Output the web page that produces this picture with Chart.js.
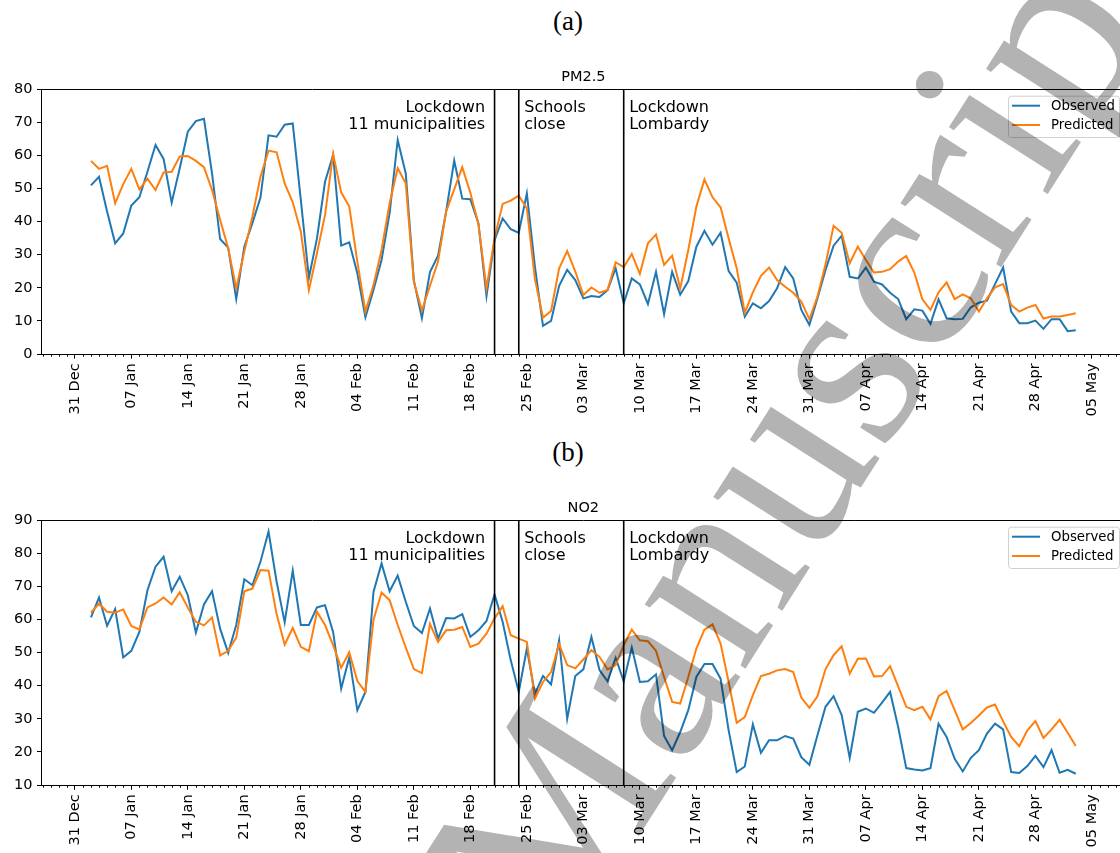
<!DOCTYPE html>
<html>
<head>
<meta charset="utf-8">
<script src="https://cdn.jsdelivr.net/npm/chart.js@4.4.1/dist/chart.umd.min.js"></script>
<style>
  html, body { margin: 0; padding: 0; background: #fff; }
  body { width: 1120px; height: 853px; overflow: hidden; position: relative; }
  canvas { position: absolute; left: 0; }
  #chart-a { top: 0; }
  #chart-b { top: 431px; }
  .panel-label {
    position: absolute; left: 528px; width: 80px; text-align: center;
    font-family: 'Liberation Serif', serif; font-size: 27px; line-height: 27px; color: #000;
  }
  #watermark { position: absolute; left: 0; top: 0; mix-blend-mode: multiply; pointer-events: none; }
</style>
</head>
<body>
<div class="panel-label" style="top: 8px;">(a)</div>
<div class="panel-label" style="top: 439px;">(b)</div>
<canvas id="chart-a" width="1125" height="453"></canvas>
<canvas id="chart-b" width="1125" height="453"></canvas>
<svg id="watermark" width="1120" height="853">
  <text x="556" y="966" transform="rotate(-57.5 556 966)" font-family="Liberation Serif" font-size="260" fill="#b3b3b3">Manuscript</text>
</svg>
<script>
// days counted from 31 Dec 2019; first sample is 2 Jan
const firstDay = 2;
const tickDays = [0, 7, 14, 21, 28, 35, 42, 49, 56, 63, 70, 77, 84, 91, 98, 105, 112, 119, 126];
const tickLabels = ['31 Dec', '07 Jan', '14 Jan', '21 Jan', '28 Jan', '04 Feb', '11 Feb', '18 Feb', '25 Feb',
    '03 Mar', '10 Mar', '17 Mar', '24 Mar', '31 Mar', '07 Apr', '14 Apr', '21 Apr', '28 Apr', '05 May'];
const eventDays = [52, 55, 68];
const eventLabels = [['Lockdown', '11 municipalities'], ['Schools', 'close'], ['Lockdown', 'Lombardy']];
const seriesNames = ['Observed', 'Predicted'];

const pm25Observed = [
    50.9, 53.5, 43.0, 33.4, 36.4, 44.8, 47.3, 55.0, 63.1, 58.9,
    45.7, 56.1, 67.1, 70.3, 71.0, 54.5, 34.7, 32.1, 16.6, 32.4,
    39.5, 47.2, 66.0, 65.6, 69.2, 69.6, 46.5, 23.0, 34.9, 52.0,
    60.1, 32.7, 33.7, 24.4, 11.1, 19.3, 28.4, 42.5, 64.6, 54.5,
    22.3, 10.8, 24.7, 29.7, 43.0, 58.4, 46.9, 46.7, 39.5, 17.5,
    34.4, 40.9, 37.7, 36.6, 48.5, 26.4, 8.5, 10.0, 20.6, 25.4,
    22.3, 16.8, 17.5, 17.2, 19.3, 25.9, 15.3, 22.8, 21.0, 15.1,
    24.8, 12.0, 24.8, 17.9, 22.0, 32.4, 37.2, 33.0, 36.6, 25.0,
    21.5, 11.3, 15.3, 13.8, 16.0, 19.8, 26.2, 22.8, 13.3, 8.8,
    16.8, 25.4, 32.7, 35.7, 23.3, 22.8, 26.1, 21.8, 21.0, 18.5,
    16.6, 10.5, 13.5, 13.1, 9.1, 16.5, 10.8, 10.5, 10.6, 14.1,
    15.5, 16.1, 21.1, 26.1, 12.8, 9.3, 9.3, 10.1, 7.6, 10.5,
    10.5, 6.9, 7.2
];
const pm25Predicted = [
    58.3, 55.9, 56.8, 45.5, 51.3, 55.9, 49.7, 52.9, 49.5, 54.8,
    55.0, 59.6, 59.8, 58.3, 56.4, 49.5, 40.5, 31.9, 19.8, 30.9,
    41.5, 53.5, 61.4, 60.9, 51.5, 45.8, 36.9, 19.3, 30.4, 42.0,
    60.4, 48.8, 44.5, 27.9, 12.8, 20.8, 31.4, 45.5, 56.1, 51.5,
    21.8, 13.1, 20.6, 27.9, 43.0, 49.7, 56.4, 48.7, 39.3, 19.8,
    34.9, 45.3, 46.3, 47.8, 44.0, 22.6, 11.0, 13.0, 25.9, 31.1,
    24.9, 17.8, 20.1, 18.5, 19.3, 27.7, 26.2, 30.2, 24.2, 33.4,
    36.1, 26.9, 29.7, 19.8, 31.4, 44.5, 52.7, 47.3, 44.3, 34.9,
    25.9, 12.5, 18.6, 23.6, 26.1, 22.3, 20.3, 18.5, 15.8, 10.5,
    17.3, 27.1, 38.7, 36.6, 27.4, 32.4, 28.4, 24.6, 24.8, 25.6,
    27.9, 29.6, 24.6, 16.5, 13.3, 18.6, 21.6, 16.6, 18.0, 16.8,
    12.8, 16.8, 20.1, 21.1, 14.8, 12.8, 14.0, 14.8, 10.7, 11.3,
    11.3, 11.8, 12.3
];
const no2Observed = [
    60.6, 66.6, 58.1, 63.1, 48.5, 50.5, 56.2, 68.8, 75.9, 78.9,
    68.5, 72.9, 67.3, 56.0, 64.5, 68.5, 57.2, 49.9, 58.3, 72.1,
    70.3, 77.4, 86.5, 71.4, 59.1, 74.7, 58.3, 58.3, 63.6, 64.3,
    56.2, 39.1, 48.5, 32.6, 38.1, 68.3, 76.9, 68.5, 73.2, 65.3,
    58.0, 55.9, 63.3, 54.2, 60.4, 60.3, 61.6, 54.7, 56.7, 59.5,
    67.5, 59.3, 47.7, 38.1, 51.2, 37.6, 42.9, 40.4, 53.7, 30.0,
    42.9, 44.9, 54.7, 44.7, 41.3, 48.4, 41.3, 51.5, 41.1, 41.3,
    43.4, 24.8, 20.5, 26.0, 32.6, 42.6, 46.5, 46.5, 42.1, 26.5,
    13.9, 15.6, 28.3, 19.7, 23.5, 23.5, 24.8, 24.0, 18.4, 16.1,
    25.0, 33.6, 36.8, 31.1, 18.2, 32.1, 33.1, 31.8, 34.9, 38.1,
    27.5, 15.1, 14.7, 14.4, 15.1, 28.5, 24.5, 17.9, 14.1, 18.2,
    20.5, 25.5, 28.5, 26.8, 13.9, 13.6, 15.7, 18.8, 15.4, 20.5,
    13.7, 14.6, 13.4
];
const no2Predicted = [
    62.0, 64.8, 62.3, 62.0, 63.0, 58.0, 57.0, 63.6, 64.8, 66.6,
    64.5, 68.2, 63.6, 59.3, 58.2, 60.6, 49.1, 50.5, 54.5, 68.5,
    69.3, 74.9, 74.7, 61.6, 52.4, 57.4, 51.7, 50.4, 62.3, 58.3,
    52.2, 45.4, 50.1, 41.4, 38.1, 59.8, 68.1, 65.8, 58.3, 51.5,
    45.0, 43.8, 58.6, 53.2, 56.7, 56.9, 57.7, 51.7, 52.7, 55.7,
    60.3, 64.0, 55.2, 54.2, 53.2, 36.1, 41.1, 44.1, 52.5, 46.2,
    45.2, 47.9, 50.7, 48.7, 44.9, 46.2, 52.2, 56.9, 53.7, 53.4,
    50.5, 42.6, 35.1, 34.6, 42.6, 51.2, 56.9, 58.5, 52.7, 41.1,
    28.8, 30.5, 37.1, 42.9, 43.6, 44.6, 45.0, 44.1, 36.4, 33.3,
    36.8, 45.0, 49.2, 51.9, 43.6, 48.1, 48.2, 42.8, 42.9, 45.9,
    39.8, 33.6, 32.6, 33.6, 29.8, 36.8, 38.4, 32.6, 26.8, 28.7,
    31.0, 33.4, 34.3, 29.2, 24.5, 21.7, 26.5, 29.3, 24.2, 26.8,
    29.7, 25.8, 21.8
];

const BLUE = '#1f77b4';
const ORANGE = '#ff7f0e';
const FONT = "'DejaVu Sans', sans-serif";
const TICK_LEN = 4.67;
const TICK_FONT = 14.5;

Chart.defaults.font.family = FONT;
Chart.defaults.color = '#000';

function toPoints(values) {
    return values.map((v, i) => ({ x: firstDay + i, y: v }));
}

// top/right spines, minor day ticks, event lines, legend, panel title
const decorations = {
    id: 'decorations',
    afterDraw(chart, args, opts) {
        const { ctx, chartArea } = chart;
        const xs = chart.scales.x;
        ctx.save();

        ctx.strokeStyle = '#000';
        ctx.lineWidth = 1;
        ctx.beginPath();
        ctx.moveTo(chartArea.left, chartArea.top + 0.5);
        ctx.lineTo(chartArea.right, chartArea.top + 0.5);
        ctx.moveTo(chartArea.right - 0.5, chartArea.top);
        ctx.lineTo(chartArea.right - 0.5, chartArea.bottom);
        ctx.stroke();

        ctx.beginPath();
        for (let d = Math.ceil(xs.min); d <= Math.floor(xs.max); d++) {
            if (tickDays.includes(d)) continue;
            const px = Math.round(xs.getPixelForValue(d)) + 0.5;
            ctx.moveTo(px, chartArea.bottom);
            ctx.lineTo(px, chartArea.bottom + 2.67);
        }
        ctx.stroke();

        ctx.lineWidth = 1.6;
        ctx.beginPath();
        eventDays.forEach(d => {
            const px = xs.getPixelForValue(d);
            ctx.moveTo(px, chartArea.top);
            ctx.lineTo(px, chartArea.bottom);
        });
        ctx.stroke();

        ctx.fillStyle = '#000';
        ctx.font = '16px ' + FONT;
        ctx.textBaseline = 'alphabetic';
        eventLabels.forEach((lines, i) => {
            const px = xs.getPixelForValue(eventDays[i]);
            const alignRight = i === 0;
            ctx.textAlign = alignRight ? 'right' : 'left';
            const tx = alignRight ? px - 9.5 : px + 5.5;
            lines.forEach((t, j) => ctx.fillText(t, tx, chartArea.top + 22.7 + j * 17.3));
        });

        ctx.font = '14.5px ' + FONT;
        ctx.textAlign = 'center';
        ctx.fillText(opts.title, (chartArea.left + chartArea.right) / 2, chartArea.top - 8.5);

        // legend
        const bx = chartArea.right - 117, by = chartArea.top + 6.7, bw = 111, bh = 41.3;
        ctx.fillStyle = 'rgba(255,255,255,0.8)';
        ctx.strokeStyle = '#d0d0d0';
        ctx.lineWidth = 1;
        ctx.beginPath();
        ctx.roundRect(bx + 0.5, by + 0.5, bw, bh, 3);
        ctx.fill();
        ctx.stroke();
        ctx.font = '13.3px ' + FONT;
        chart.data.datasets.forEach((ds, i) => {
            const ry = by + 10 + i * 19.3;
            ctx.strokeStyle = ds.borderColor;
            ctx.lineWidth = 2;
            ctx.beginPath();
            ctx.moveTo(bx + 4, ry);
            ctx.lineTo(bx + 32, ry);
            ctx.stroke();
            ctx.fillStyle = '#000';
            ctx.textAlign = 'left';
            ctx.textBaseline = 'middle';
            ctx.fillText(ds.label, bx + 43, ry + 0.5);
        });
        ctx.restore();
    }
};

function makePanel(canvasId, title, observed, predicted, yMin, yMax) {
    const ctx = document.getElementById(canvasId);
    return new Chart(ctx, {
        type: 'line',
        data: {
            datasets: [
                {
                    label: seriesNames[0],
                    data: toPoints(observed),
                    borderColor: BLUE,
                    borderWidth: 2,
                    pointRadius: 0,
                    tension: 0,
                    order: 1,
                },
                {
                    label: seriesNames[1],
                    data: toPoints(predicted),
                    borderColor: ORANGE,
                    borderWidth: 2,
                    pointRadius: 0,
                    tension: 0,
                    order: 0,
                },
            ],
        },
        options: {
            responsive: false,
            animation: false,
            layout: { padding: { top: 89, left: 0, right: 0, bottom: 0 } },
            plugins: {
                legend: { display: false },
                tooltip: { enabled: false },
                decorations: { title: title },
            },
            scales: {
                x: {
                    type: 'linear',
                    min: firstDay - 6.1,
                    max: firstDay + observed.length - 1 + 6.1,
                    afterBuildTicks: scale => {
                        scale.ticks = tickDays.map(v => ({ value: v }));
                    },
                    afterFit: scale => { scale.height = 99; },
                    ticks: {
                        autoSkip: false,
                        maxRotation: 90,
                        minRotation: 90,
                        padding: 4.67,
                        color: '#000',
                        font: { size: TICK_FONT },
                        callback: value => tickLabels[tickDays.indexOf(value)] || '',
                    },
                    grid: {
                        drawOnChartArea: false,
                        drawTicks: true,
                        tickLength: TICK_LEN,
                        tickColor: '#000',
                        tickWidth: 1,
                    },
                    border: { display: true, color: '#000', width: 1 },
                },
                y: {
                    min: yMin,
                    max: yMax,
                    afterFit: scale => { scale.width = 41.7; },
                    ticks: {
                        stepSize: 10,
                        padding: 4.67,
                        color: '#000',
                        font: { size: TICK_FONT },
                    },
                    grid: {
                        drawOnChartArea: false,
                        drawTicks: true,
                        tickLength: TICK_LEN,
                        tickColor: '#000',
                        tickWidth: 1,
                    },
                    border: { display: true, color: '#000', width: 1 },
                },
            },
        },
        plugins: [decorations],
    });
}

makePanel('chart-a', 'PM2.5', pm25Observed, pm25Predicted, 0, 80);
makePanel('chart-b', 'NO2', no2Observed, no2Predicted, 10, 90);
</script>
</body>
</html>
